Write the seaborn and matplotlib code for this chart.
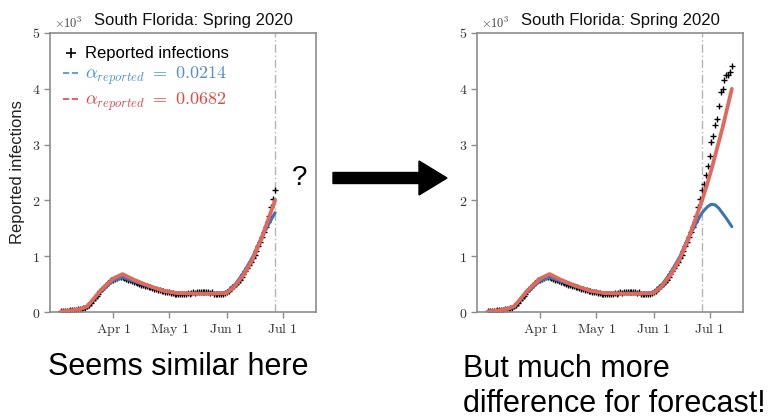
import numpy as np
import pandas as pd
import matplotlib
matplotlib.use('Agg')
import matplotlib.pyplot as plt
from matplotlib.lines import Line2D
import seaborn as sns

# reported infections per day (x10^3), Mar 4 - Jul 13 2020
mar = [0.01, 0.01, 0.02, 0.02, 0.02, 0.03, 0.03, 0.03, 0.04,
       0.05, 0.05, 0.06, 0.07, 0.08, 0.10, 0.13,
       0.17, 0.21, 0.25, 0.29, 0.33, 0.37, 0.41, 0.45, 0.48, 0.52, 0.55, 0.57]
apr = [0.58, 0.60, 0.61, 0.62, 0.63, 0.62, 0.61, 0.60, 0.58, 0.57,
       0.56, 0.54, 0.53, 0.52, 0.50, 0.49, 0.48, 0.47, 0.46, 0.45,
       0.44, 0.43, 0.42, 0.41, 0.40, 0.39, 0.38, 0.37, 0.36, 0.36]
may = [0.35, 0.34, 0.34, 0.33, 0.33, 0.32, 0.32, 0.33, 0.32, 0.33,
       0.34, 0.33, 0.34, 0.35, 0.34, 0.35, 0.36, 0.35, 0.36, 0.35,
       0.36, 0.35, 0.34, 0.35, 0.33, 0.33, 0.32, 0.33, 0.32, 0.33, 0.34]
jun = [0.36, 0.38, 0.41, 0.44, 0.47, 0.50, 0.54, 0.58, 0.63, 0.68,
       0.73, 0.78, 0.84, 0.90, 0.96, 1.03, 1.10, 1.18, 1.26, 1.35,
       1.44, 1.53, 1.62, 1.72, 1.88, 2.02, 2.18, 2.30, 2.45, 2.62]
jul = [2.80, 3.05, 3.15, 3.35, 3.45, 3.70, 3.95, 4.00, 4.15, 4.25, 4.25, 4.30, 4.40]
reported = mar + apr + may + jun + jul

# model fits (x10^3)
fit_dates = ['2020-03-04', '2020-03-10', '2020-03-15', '2020-03-18', '2020-03-25',
             '2020-04-01', '2020-04-06', '2020-04-12', '2020-04-20', '2020-04-28',
             '2020-05-05', '2020-05-15', '2020-05-25', '2020-06-01', '2020-06-05',
             '2020-06-10', '2020-06-15', '2020-06-20', '2020-06-24', '2020-06-27',
             '2020-06-30', '2020-07-02', '2020-07-04', '2020-07-06', '2020-07-08',
             '2020-07-10', '2020-07-13']
fit_low = [0.01, 0.03, 0.06, 0.10, 0.36, 0.56, 0.62, 0.55, 0.46, 0.38,
           0.34, 0.33, 0.33, 0.35, 0.47, 0.70, 0.99, 1.36, 1.60, 1.78,
           1.89, 1.93, 1.92, 1.86, 1.77, 1.68, 1.53]   # alpha = 0.0214
fit_high = [0.01, 0.03, 0.06, 0.10, 0.38, 0.60, 0.68, 0.58, 0.47, 0.38,
            0.34, 0.33, 0.33, 0.34, 0.45, 0.66, 0.95, 1.35, 1.72, 2.00,
            2.32, 2.55, 2.80, 3.05, 3.30, 3.58, 4.00]  # alpha = 0.0682

tick_dates = ['2020-04-01', '2020-05-01', '2020-06-01', '2020-07-01']
tick_names = ['Apr 1', 'May 1', 'Jun 1', 'Jul 1']
cutoff = pd.Timestamp('2020-06-27')

obs = pd.DataFrame({'date': pd.date_range('2020-03-04', periods=len(reported), freq='D'),
                    'value': reported})
fits = pd.DataFrame({'date': pd.to_datetime(fit_dates), 'low': fit_low, 'high': fit_high})

BLUE = '#3b74b8'
RED = '#e2685c'

sns.set_style('white')
plt.rcParams['font.family'] = ['Liberation Sans', 'DejaVu Sans']
plt.rcParams['mathtext.fontset'] = 'cm'
plt.rcParams['text.color'] = 'black'
plt.rcParams['axes.labelcolor'] = '#222222'

fig = plt.figure(figsize=(7.74, 4.18), dpi=100)
W, H = 774, 418


def panel(left, end):
    ax = fig.add_axes([left / W, (H - 312) / H, 266 / W, 279 / H])
    o = obs[obs.date <= end]
    f = fits[fits.date <= end]
    sns.scatterplot(data=o, x='date', y='value', marker='+', color='k', s=20,
                    linewidth=1.0, ax=ax, zorder=2)
    sns.lineplot(data=f, x='date', y='low', color=BLUE, lw=2.2, ax=ax, zorder=3)
    sns.lineplot(data=f, x='date', y='high', color=RED, lw=2.7, ax=ax, zorder=4)
    ax.axvline(cutoff, color='#b5b5b5', ls=(0, (6, 2, 1, 2)), lw=1, zorder=1)
    ax.set_xlim(pd.Timestamp('2020-02-27'), pd.Timestamp('2020-07-19'))
    ax.set_ylim(0, 5)
    ax.set_yticks(range(6))
    ax.set_yticklabels([f'${v}$' for v in range(6)])
    ax.set_xticks(pd.to_datetime(tick_dates))
    ax.set_xticklabels([r'$\mathrm{' + n.replace(' ', r'\ ') + '}$' for n in tick_names])
    ax.set_xlabel('')
    ax.set_ylabel('')
    for s in ax.spines.values():
        s.set_color('#8c8c8c')
        s.set_linewidth(1.2)
    ax.tick_params(bottom=True, left=True, direction='out', length=4, width=1,
                   color='#8c8c8c', labelsize=10, labelcolor='#333333', pad=3)
    ax.text(0.54, 1.029, 'South Florida: Spring 2020', transform=ax.transAxes,
            ha='center', va='baseline', fontsize=12, color='#111111')
    ax.text(0.015, 1.008, r'$\times10^3$', transform=ax.transAxes,
            ha='left', va='bottom', fontsize=9, color='#444444')
    return ax


ax1 = panel(50, cutoff)
ax2 = panel(477, obs.date.max())

ax1.set_ylabel('Reported infections', fontsize=12)
ax1.yaxis.set_label_coords(-0.095, 0.5)

handles = [Line2D([], [], ls='none', marker='+', color='k', markersize=7, mew=1.2),
           Line2D([], [], color='#4f8fd0', ls='--', lw=1.2),
           Line2D([], [], color='#e8433f', ls='--', lw=1.2)]
labels = ['Reported infections', r'$\alpha_{reported}\ =\ 0.0214$', r'$\alpha_{reported}\ =\ 0.0682$']
leg = ax1.legend(handles, labels, loc='upper left', frameon=False, fontsize=12,
                 handlelength=0.9, handletextpad=0.4, labelspacing=0.2, borderaxespad=0.4,
                 labelcolor=['k', '#4f8fd0', '#e8433f'])
for t in leg.get_texts()[1:]:
    t.set_fontsize(13)

# slide overlay: arrow, question mark, captions
ov = fig.add_axes([0, 0, 1, 1])
ov.set_xlim(0, W)
ov.set_ylim(H, 0)
ov.axis('off')
ov.arrow(333, 178, 114, 0, width=11, head_width=34, head_length=28,
         length_includes_head=True, color='k')
ov.text(300, 178, '?', ha='center', va='center', fontsize=20)
ov.text(48, 375, 'Seems similar here', ha='left', va='baseline', fontsize=22)
ov.text(463, 377, 'But much more', ha='left', va='baseline', fontsize=22)
ov.text(463, 412, 'difference for forecast!', ha='left', va='baseline', fontsize=22)

fig.savefig('out.png', dpi=100)
